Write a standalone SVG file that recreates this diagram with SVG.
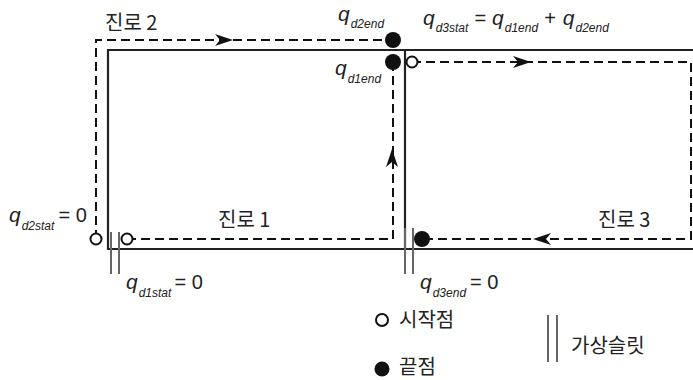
<svg xmlns="http://www.w3.org/2000/svg" width="693" height="380" viewBox="0 0 693 380">
<defs>
<style>
.wall{fill:none;stroke:#222;stroke-width:2.2}
.slit{fill:none;stroke:#666;stroke-width:2}
.path{fill:none;stroke:#111;stroke-width:2;stroke-dasharray:9 5}
.start{fill:#fff;stroke:#111;stroke-width:2}
.end{fill:#111}
.kr{font-family:"Noto Sans CJK KR","Noto Sans",sans-serif;font-size:20px;fill:#222}
.q{font-family:"Liberation Sans",Arial,sans-serif;font-style:italic;font-size:21px;fill:#222}
.sub{font-family:"Liberation Sans",Arial,sans-serif;font-style:italic;font-size:12px;fill:#222}
.eq{font-family:"Liberation Sans",Arial,sans-serif;font-size:20px;fill:#222}
</style>
<marker id="ah" viewBox="0 0 18 12" markerWidth="18" markerHeight="12" refX="9" refY="6" orient="auto" markerUnits="userSpaceOnUse">
<path d="M0,0 L18,6 L0,12 L5,6 Z" fill="#111"/>
</marker>
</defs>
<rect width="693" height="380" fill="#fff"/>
<g id="walls">
<path class="wall" d="M108,250 V50 H693 M108,249 H693 M405,50 V249"/>
</g>
<g id="slits">
<path class="slit" d="M111,232 V274 M119,232 V274 M405,228 V274 M413,228 V274"/>
</g>
<g id="connectors">
<path class="path" d="M96,239 V40 H386"/>
<path class="path" d="M127,239 H393 V62"/>
<path class="path" d="M412,62 H691 V239 H422"/>
<path d="M210,40 L224,40" stroke="none" marker-end="url(#ah)"/>
<path d="M392,170 L392,158" stroke="none" marker-end="url(#ah)"/>
<path d="M508,62 L522,62" stroke="none" marker-end="url(#ah)"/>
<path d="M556,239 L542,239" stroke="none" marker-end="url(#ah)"/>
</g>
<g id="route2-start"><circle class="start" cx="96" cy="239" r="5.5"/></g>
<g id="route1-start"><circle class="start" cx="127" cy="239" r="5.5"/></g>
<g id="route3-start"><circle class="start" cx="412" cy="62" r="5.5"/></g>
<g id="route2-end"><circle class="end" cx="393" cy="40" r="8"/></g>
<g id="route1-end"><circle class="end" cx="393" cy="62" r="8"/></g>
<g id="route3-end"><circle class="end" cx="422" cy="239" r="8"/></g>
<g id="labels">
<text class="kr" x="105" y="30">진로 2</text>
<text class="kr" x="218" y="227">진로 1</text>
<text class="kr" x="598" y="227">진로 3</text>
<text x="338" y="21"><tspan class="q">q</tspan><tspan class="sub" dx="1" dy="7">d2end</tspan></text>
<text x="335" y="75"><tspan class="q">q</tspan><tspan class="sub" dx="1" dy="8">d1end</tspan></text>
<text x="423" y="25"><tspan class="q">q</tspan><tspan class="sub" dx="1" dy="7">d3stat</tspan><tspan class="eq" dx="6" dy="-7">=</tspan><tspan class="q" dx="6">q</tspan><tspan class="sub" dx="1" dy="7">d1end</tspan><tspan class="eq" dx="6" dy="-7">+</tspan><tspan class="q" dx="7">q</tspan><tspan class="sub" dx="1" dy="7">d2end</tspan></text>
<text x="9" y="222"><tspan class="q">q</tspan><tspan class="sub" dx="1" dy="8">d2stat</tspan><tspan class="eq" dx="4" dy="-8">= 0</tspan></text>
<text x="126" y="289"><tspan class="q">q</tspan><tspan class="sub" dx="1" dy="8">d1stat</tspan><tspan class="eq" dx="3" dy="-8">= 0</tspan></text>
<text x="420" y="289"><tspan class="q">q</tspan><tspan class="sub" dx="1" dy="8">d3end</tspan><tspan class="eq" dx="4" dy="-8">= 0</tspan></text>
</g>
<g id="legend">
<circle class="start" cx="382" cy="320" r="6"/>
<text class="kr" x="399" y="327">시작점</text>
<circle class="end" cx="382" cy="369" r="7.5"/>
<text class="kr" x="399" y="374">끝점</text>
<path class="slit" d="M548,315 V362 M557,315 V362"/>
<text class="kr" x="571" y="353">가상슬릿</text>
</g>
</svg>
